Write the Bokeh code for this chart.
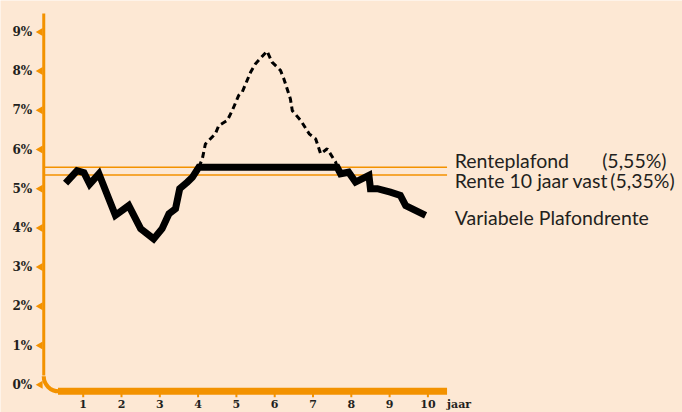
import math
from bokeh.plotting import figure
from bokeh.models import Range1d
from bokeh.core.properties import value
from bokeh.embed import file_html
from bokeh.resources import INLINE

# ---- data ----
years_var = [0.54, 0.84, 1.02, 1.17, 1.41, 1.84, 2.19, 2.50, 2.84, 3.06, 3.24, 3.41, 3.52,
             3.72, 3.85, 4.02, 7.63, 7.72, 7.93, 8.11, 8.46, 8.50, 8.68, 9.02, 9.28, 9.42, 9.94]
rate_var = [5.14, 5.46, 5.41, 5.12, 5.38, 4.32, 4.57, 3.98, 3.72, 3.98, 4.36, 4.49, 5.00,
            5.17, 5.29, 5.55, 5.55, 5.38, 5.42, 5.17, 5.34, 5.00, 5.00, 4.91, 4.83, 4.57, 4.32]

years_unc = [4.02, 4.11, 4.19, 4.45, 4.54, 4.76, 4.89, 5.06, 5.15, 5.37, 5.50, 5.80, 5.93,
             6.15, 6.24, 6.41, 6.46, 6.68, 6.90, 7.07, 7.20, 7.37, 7.59, 7.63]
rate_unc = [5.55, 5.76, 6.14, 6.40, 6.61, 6.74, 6.99, 7.38, 7.46, 7.97, 8.19, 8.51, 8.23,
            8.02, 7.80, 7.29, 6.99, 6.74, 6.40, 6.27, 5.89, 6.02, 5.68, 5.55]

plafond = 5.55
vast10 = 5.35

y_ticks = [0, 1, 2, 3, 4, 5, 6, 7, 8, 9]
y_labels = ["0%", "1%", "2%", "3%", "4%", "5%", "6%", "7%", "8%", "9%"]
x_ticks = [1, 2, 3, 4, 5, 6, 7, 8, 9, 10]
x_labels = ["1", "2", "3", "4", "5", "6", "7", "8", "9", "10"]
x_unit = "jaar"

legend_names = ["Renteplafond", "Rente 10 jaar vast", "Variabele Plafondrente"]
legend_values = [5.71, 5.22, 4.27]
value_labels = ["(5,55%)", "(5,35%)"]

# ---- styling ----
BG = "#fde8d4"
ORANGE = "#f39200"
TXT = "#231f20"

px_x = 38.3  # px per year
px_y = 39.2  # px per %
x0 = -44.4 / px_x
x1 = x0 + 682 / px_x
y1 = 384.2 / px_y
y0 = y1 - 412 / px_y

x_end = 10.5
y_top = 9.47
y_base = -0.17

p = figure(width=682, height=412, x_range=Range1d(x0, x1), y_range=Range1d(y0, y1),
           output_backend="svg", toolbar_location=None, min_border=0,
           x_axis_location=None, y_axis_location=None,
           background_fill_color=BG, border_fill_color=BG, outline_line_color=None)
p.grid.visible = False

r = 15
ax_x = -0.03
cx = ax_x + r / px_x
cy = y_base + r / px_y

# axes (orange)
p.segment(x0=[ax_x], y0=[y_top], x1=[ax_x], y1=[cy + 0.02], line_color=ORANGE, line_width=3)
p.arc(x=[cx], y=[cy], radius=r, radius_units="screen", start_angle=math.pi,
      end_angle=1.5 * math.pi, direction="anticlock", line_color=ORANGE, line_width=4)
p.segment(x0=[cx - 0.02], y0=[y_base], x1=[x_end], y1=[y_base], line_color=ORANGE, line_width=7)

# y ticks (left-pointing triangles) and labels
p.scatter(x=[-0.12] * len(y_ticks), y=y_ticks, marker="triangle", angle=math.pi / 2,
          size=8, fill_color=ORANGE, line_color=None)
p.text(x=[-0.33] * len(y_ticks), y=y_ticks, text=y_labels, text_align="right",
       text_baseline="middle", text_font=value("DejaVu Serif"), text_font_style="bold",
       text_font_size="12px", text_color=TXT)

# x ticks and labels
p.segment(x0=x_ticks, y0=[y_base] * 10, x1=x_ticks, y1=[y_base - 0.15] * 10,
          line_color=ORANGE, line_width=2)
p.text(x=x_ticks, y=[-0.50] * 10, text=x_labels, text_align="center",
       text_baseline="middle", text_font=value("DejaVu Serif"), text_font_style="bold",
       text_font_size="11px", text_color=TXT)
p.text(x=[10.5], y=[-0.50], text=[x_unit], text_align="left",
       text_baseline="middle", text_font=value("DejaVu Serif"), text_font_style="bold",
       text_font_size="11px", text_color=TXT)

# reference lines
p.segment(x0=[0, 0], y0=[plafond, vast10], x1=[x_end, x_end], y1=[plafond, vast10],
          line_color=ORANGE, line_width=1.5)

# series
p.line(years_unc, rate_unc, line_color="black", line_width=3, line_dash="6 4")
p.line(years_var, rate_var, line_color="black", line_width=7, line_join="miter")

# legend texts
p.text(x=[10.70] * 3, y=legend_values, text=legend_names, text_align="left",
       text_baseline="middle", text_font=value("Lato"), text_font_size="19.5px",
       text_color=TXT)
p.text(x=[14.55, 14.76], y=legend_values[:2], text=value_labels, text_align="left",
       text_baseline="middle", text_font=value("Lato"), text_font_size="19.5px",
       text_color=TXT)

open("out.html", "w").write(file_html(p, INLINE))
